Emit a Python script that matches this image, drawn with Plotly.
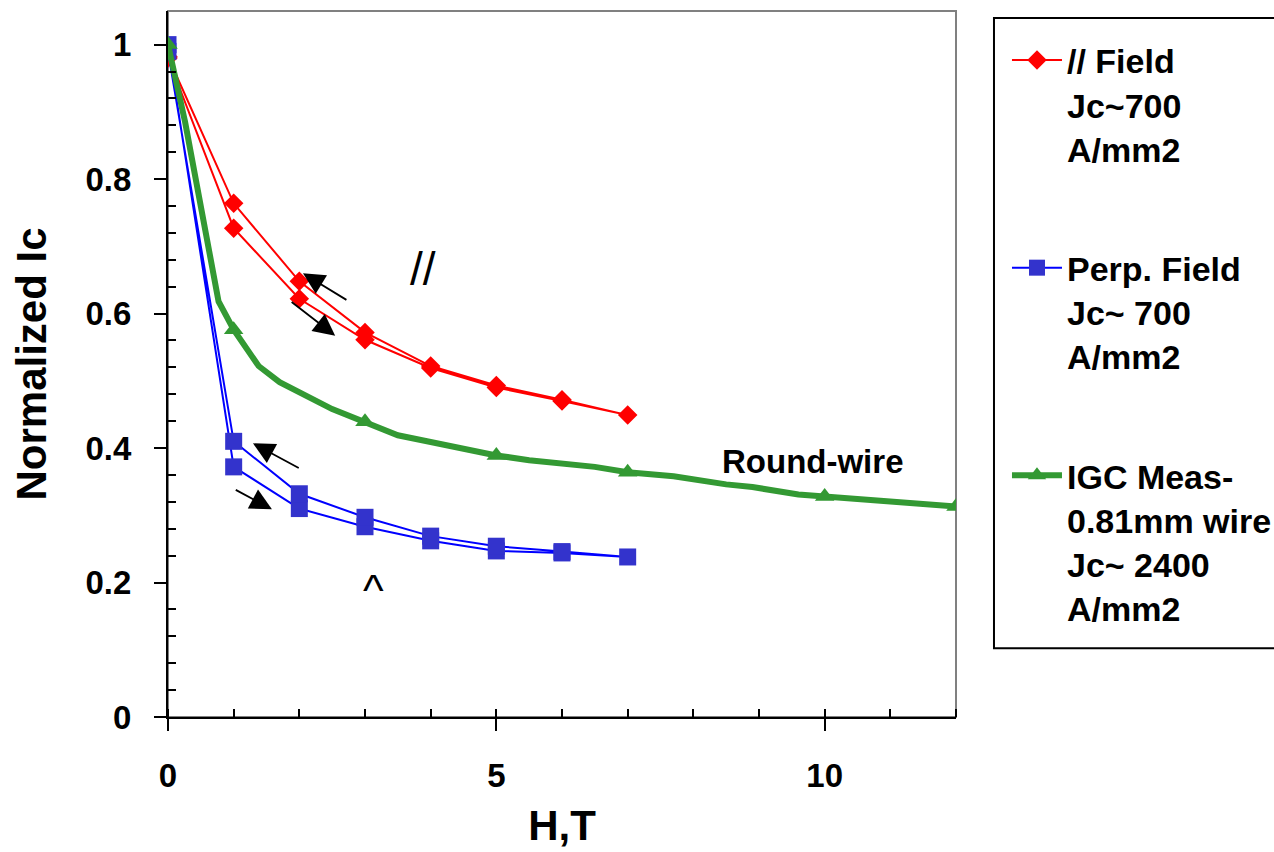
import numpy as np
import plotly.graph_objects as go

# Applied field, swept up from 0 to 7 T and back down to 0 T
sweep_h = [0, 1, 2, 3, 4, 5, 6, 7, 6, 5, 4, 3, 2, 1, 0]
# Normalized Ic, field parallel to the tape (up-sweep then down-sweep)
par_ic = [0.980, 0.727, 0.622, 0.561, 0.519, 0.490, 0.470, 0.449,
          0.472, 0.493, 0.522, 0.572, 0.648, 0.764, 0.982]
# Normalized Ic, field perpendicular to the tape
perp_ic = [1.000, 0.372, 0.310, 0.283, 0.262, 0.247, 0.244, 0.238,
           0.246, 0.254, 0.269, 0.297, 0.332, 0.410, 0.990]

# IGC round-wire measurement
igc_h = [0, 0.26, 0.77, 1.0, 1.38, 1.7, 2.5, 3.0, 3.5, 4.0, 5.0, 5.5, 6.0,
         6.5, 7.0, 7.7, 8.5, 8.9, 9.6, 10.0, 10.3, 11.0, 11.4, 12.0]
igc_ic = [1.000, 0.885, 0.618, 0.576, 0.522, 0.498, 0.458, 0.439, 0.419,
          0.409, 0.389, 0.382, 0.378, 0.372, 0.364, 0.358, 0.346, 0.342,
          0.331, 0.328, 0.326, 0.322, 0.317, 0.313]
igc_marked_h = [0, 1.0, 3.0, 5.0, 7.0, 10.0, 12.0]

legend_names = [
    "// Field<br>Jc~700<br>A/mm2",
    "Perp. Field<br>Jc~ 700<br>A/mm2",
    "IGC Meas-<br>0.81mm wire<br>Jc~ 2400<br>A/mm2",
]

x_range = [0, 12]
y_range = [0, 1.05]

RED = "#FF0000"
BLUE_LINE = "#0000FF"
BLUE_MARK = "#3333CC"
GREEN = "#339933"
FONT = "Liberation Sans"

igc_lookup = dict(zip(igc_h, igc_ic))
igc_marked_ic = [igc_lookup[h] for h in igc_marked_h]

fig = go.Figure()

fig.add_trace(go.Scatter(
    x=sweep_h, y=par_ic, mode="lines+markers", name=legend_names[0],
    legendgroup="par",
    line=dict(color=RED, width=2),
    marker=dict(symbol="diamond", size=15, color=RED),
))
fig.add_trace(go.Scatter(
    x=sweep_h, y=perp_ic, mode="lines+markers", name=legend_names[1],
    legendgroup="perp",
    line=dict(color=BLUE_LINE, width=2),
    marker=dict(symbol="square", size=17, color=BLUE_MARK),
))
# legend entry for the round-wire curve (line + marker sample)
fig.add_trace(go.Scatter(
    x=[None], y=[None], mode="lines+markers", name=legend_names[2],
    legendgroup="igc",
    line=dict(color=GREEN, width=6),
    marker=dict(symbol="triangle-up", size=16, color=GREEN),
))
fig.add_trace(go.Scatter(
    x=igc_h, y=igc_ic, mode="lines", showlegend=False, legendgroup="igc",
    line=dict(color=GREEN, width=6),
))
fig.add_trace(go.Scatter(
    x=igc_marked_h, y=igc_marked_ic, mode="markers", showlegend=False,
    legendgroup="igc",
    marker=dict(symbol="triangle-up", size=17, color=GREEN),
))

# sweep-direction arrows: (tail H, tail Ic, head H, head Ic)
arrows = [
    (2.74, 0.619, 2.055, 0.660),
    (1.86, 0.619, 2.546, 0.567),
    (2.014, 0.369, 1.294, 0.407),
    (1.009, 0.339, 1.583, 0.309),
]
annotations = []
for tx, ty, hx, hy in arrows:
    annotations.append(dict(
        x=hx, y=hy, ax=tx, ay=ty, xref="x", yref="y", axref="x", ayref="y",
        text="", showarrow=True, arrowhead=2, arrowsize=2.4, arrowwidth=1.8,
        arrowcolor="black",
    ))

annotations += [
    dict(x=3.88, y=0.667, xref="x", yref="y", text="//", showarrow=False,
         font=dict(family=FONT, size=46, color="black")),
    dict(x=3.13, y=0.188, xref="x", yref="y", text="^", showarrow=False,
         font=dict(family=FONT, size=44, color="black")),
    dict(x=9.82, y=0.380, xref="x", yref="y", text="Round-wire",
         showarrow=False,
         font=dict(family=FONT, size=33, color="black", weight="bold")),
]

tick_font = dict(family=FONT, size=33, color="black", weight="bold")
title_font = dict(family=FONT, size=42, color="black", weight="bold")

y_minor = [round(v, 2) for v in np.arange(0.04, 1.0, 0.04)
           if abs(v / 0.2 - round(v / 0.2)) > 1e-6]

fig.update_layout(
    width=1274, height=852,
    margin=dict(l=168, r=318, t=11, b=135, autoexpand=False),
    paper_bgcolor="white", plot_bgcolor="white",
    showlegend=True,
    legend=dict(
        x=1.0647, xanchor="left", y=0.971, yanchor="top",
        bgcolor="rgba(0,0,0,0)", borderwidth=0,
        font=dict(family=FONT, size=34, color="black", weight="bold"),
        tracegroupgap=72, valign="top", itemwidth=50,
    ),
    xaxis=dict(
        range=x_range, dtick=5, tick0=0,
        showline=True, linecolor="black", linewidth=2,
        ticks="outside", ticklen=12, tickwidth=2, tickcolor="black",
        minor=dict(dtick=1, tick0=0, ticks="inside", ticklen=8,
                   tickwidth=2, tickcolor="black", showgrid=False),
        showgrid=False, zeroline=False,
        tickfont=tick_font, ticklabelstandoff=16,
        title=dict(text="H,T", font=title_font, standoff=18),
    ),
    yaxis=dict(
        range=y_range, dtick=0.2, tick0=0,
        showline=True, linecolor="black", linewidth=2,
        ticks="outside", ticklen=12, tickwidth=2, tickcolor="black",
        minor=dict(tickmode="array", tickvals=y_minor, ticks="inside",
                   ticklen=8, tickwidth=2, tickcolor="black", showgrid=False),
        showgrid=False, zeroline=False,
        tickfont=tick_font, ticklabelstandoff=16,
        title=dict(text="Normalized Ic", font=title_font, standoff=26),
    ),
    # inner halves of the major ticks
    xaxis2=dict(overlaying="x", anchor="y", side="bottom", range=x_range,
                dtick=5, tick0=0, ticks="inside", ticklen=10, tickwidth=2,
                tickcolor="black", showticklabels=False, showline=False,
                showgrid=False, zeroline=False),
    yaxis2=dict(overlaying="y", anchor="x", side="left", range=y_range,
                dtick=0.2, tick0=0, ticks="inside", ticklen=10, tickwidth=2,
                tickcolor="black", showticklabels=False, showline=False,
                showgrid=False, zeroline=False),
    shapes=[
        # plot-area frame
        dict(type="rect", xref="paper", yref="paper", x0=0, x1=1,
             y0=0, y1=1, line=dict(color="#808080", width=2), layer="below"),
        # legend frame
        dict(type="rect", xref="paper", yref="paper", x0=1.0482, x1=1.5,
             y0=0.0973, y1=0.990, line=dict(color="black", width=2),
             fillcolor="rgba(0,0,0,0)", layer="above"),
    ],
    annotations=annotations,
)

fig.write_html("out.html")
